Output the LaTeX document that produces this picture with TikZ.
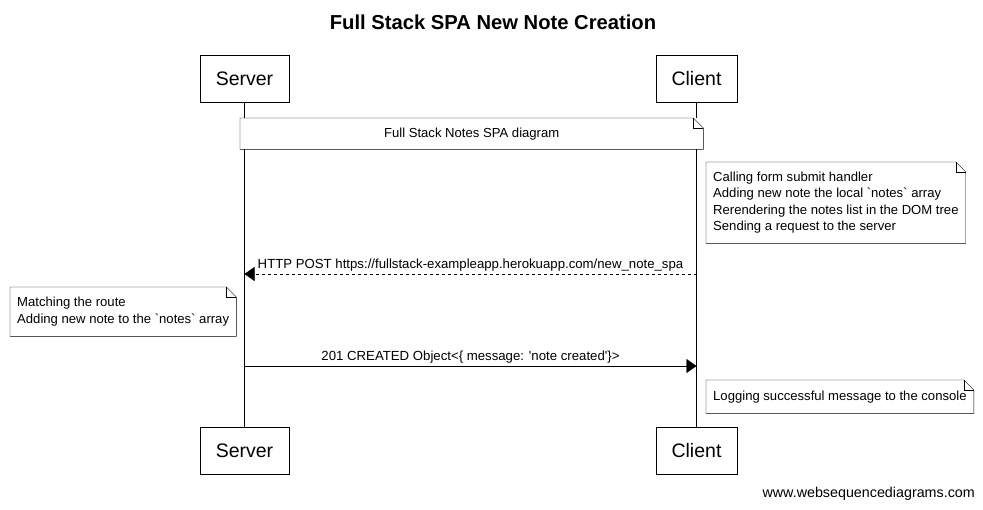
\documentclass[tikz,border=0pt]{standalone}
\usepackage{fontspec}
\setmainfont{Liberation Sans}
\usetikzlibrary{arrows.meta,positioning}

% folded corner round a note node
\newcommand{\dogear}[1]{%
  \draw (#1.north west) -- ([xshift=-10pt]#1.north east) -- ([yshift=-10pt]#1.north east)
    -- (#1.south east) -- (#1.south west) -- cycle;
  \draw ([xshift=-10pt]#1.north east) |- ([yshift=-10pt]#1.north east);}

\begin{document}
\begin{tikzpicture}[x=1pt,y=-1pt,
            actor/.style={draw,fill=white,rectangle,minimum height=47,inner sep=0,font=\fontsize{19.5}{22}\selectfont},
            note/.style={fill=white,rectangle,inner xsep=7,inner ysep=0,anchor=north west,align=left,
              font=\fontsize{13.1}{16.3}\selectfont},
            lab/.style={font=\fontsize{13.2}{15}\selectfont,above,inner sep=3},
            msg/.style={draw,-{Triangle[length=10,width=14]}}
          ]
          \useasboundingbox (0,0) rectangle (983,509);
          \node[font=\bfseries\fontsize{20.2}{23}\selectfont] (title) at (493,22) {Full Stack SPA New Note Creation};

          %participants
          \node[actor,minimum width=89] (srv) at (244.5,78.5) {Server};
          \node[actor,minimum width=81] (cli) at (696.5,78.5) {Client};
          \node[actor,minimum width=89] (srv2) at (244.5,450.5) {Server};
          \node[actor,minimum width=81] (cli2) at (696.5,450.5) {Client};

          %lifelines
          \path[draw]
          (srv) -- (srv2)
          (cli) -- (cli2)
          ;

          %notes
          \node[note,align=center,minimum width=463,minimum height=31] (spa) at (240,118) {Full Stack Notes SPA diagram};
          \node[note,minimum height=81] (submit) at (706,162)
            {Calling form submit handler\\Adding new note the local \textasciigrave notes\textasciigrave{} array\\Rerendering the notes list in the DOM tree\\Sending a request to the server};
          \node[note,minimum height=49] (route) at (10,287)
            {Matching the route\\Adding new note to the \textasciigrave notes\textasciigrave{} array};
          \node[note,minimum height=33] (log) at (706,380)
            {Logging successful message to the console};
          \dogear{spa}
          \dogear{submit}
          \dogear{route}
          \dogear{log}

          %messages
          \coordinate (post-c) at (cli |- 0,274);
          \coordinate (post-s) at (srv |- 0,274);
          \coordinate (created-s) at (srv |- 0,366);
          \coordinate (created-c) at (cli |- 0,366);
          \path
          (post-c) edge[msg,dashed] node[lab] {HTTP POST https://fullstack-exampleapp.herokuapp.com/new\_note\_spa} (post-s)
          (created-s) edge[msg] node[lab] {201 CREATED Object<\{ message: \textquotesingle note created\textquotesingle\}>} (created-c)
          ;

          \node[anchor=east,font=\fontsize{14.3}{16}\selectfont,inner sep=0] (wsd) at (975,494) {www.websequencediagrams.com};
\end{tikzpicture}
\end{document}
